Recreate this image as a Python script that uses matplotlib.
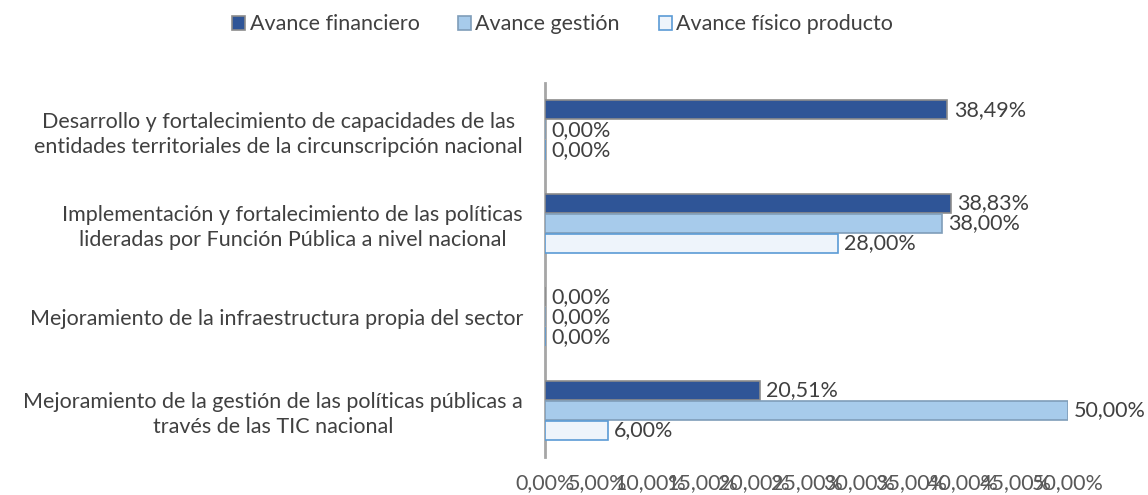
import matplotlib
matplotlib.use("Agg")
import matplotlib.pyplot as plt
import numpy as np

plt.rcParams["font.family"] = ["Lato", "DejaVu Sans"]

categories = [
    "Desarrollo y fortalecimiento de capacidades de las\nentidades territoriales de la circunscripción nacional",
    "Implementación y fortalecimiento de las políticas\nlideradas por Función Pública a nivel nacional",
    "Mejoramiento de la infraestructura propia del sector",
    "Mejoramiento de la gestión de las políticas públicas a\ntravés de las TIC nacional",
]
series_names = ["Avance financiero", "Avance gestión", "Avance físico producto"]
financiero = [38.49, 38.83, 0.00, 20.51]
gestion = [0.00, 38.00, 0.00, 50.00]
fisico = [0.00, 28.00, 0.00, 6.00]
xticks = np.arange(0, 55, 5)

faces = ["#2F5597", "#A7CBEB", "#EEF4FB"]
edges = ["#8C8C8C", "#7F9DB9", "#5B9BD5"]
fs = 15.5

fig = plt.figure(figsize=(11.48, 4.95), dpi=100)
ax = fig.add_axes([0.475, 0.077, 0.455, 0.755])

y = np.arange(len(categories))
h = 0.215
for i, (vals, name) in enumerate(zip([financiero, gestion, fisico], series_names)):
    pos = y + (i - 1) * h
    ax.barh(pos, vals, height=h * 0.95, color=faces[i], edgecolor=edges[i],
            linewidth=1.2, label=name, zorder=3)
    for p, v in zip(pos, vals):
        ax.text(v + 0.6, p, f"{v:.2f}%".replace(".", ","), va="center", ha="left",
                fontsize=fs, color="#404040")

ax.set_xlim(0, 50)
ax.set_ylim(len(categories) - 0.5, -0.5)
ax.set_yticks(y)
ax.set_yticklabels(categories, fontsize=fs, color="#404040", multialignment="center",
                   linespacing=1.3)
ax.set_xticks(xticks)
ax.set_xticklabels([f"{t:.2f}%".replace(".", ",") for t in xticks], fontsize=fs, color="#595959")
ax.tick_params(length=0, pad=16)
ax.tick_params(axis="x", pad=12)
for s in ["top", "right", "bottom"]:
    ax.spines[s].set_visible(False)
ax.spines["left"].set_color("#A6A6A6")
ax.spines["left"].set_linewidth(2)

fig.legend(loc="upper center", bbox_to_anchor=(0.49, 1.01), ncol=3, frameon=False,
           fontsize=fs, handlelength=0.6, handleheight=0.6, handletextpad=0.2,
           columnspacing=1.8, labelcolor="#404040")

fig.savefig("out.png", dpi=100)
